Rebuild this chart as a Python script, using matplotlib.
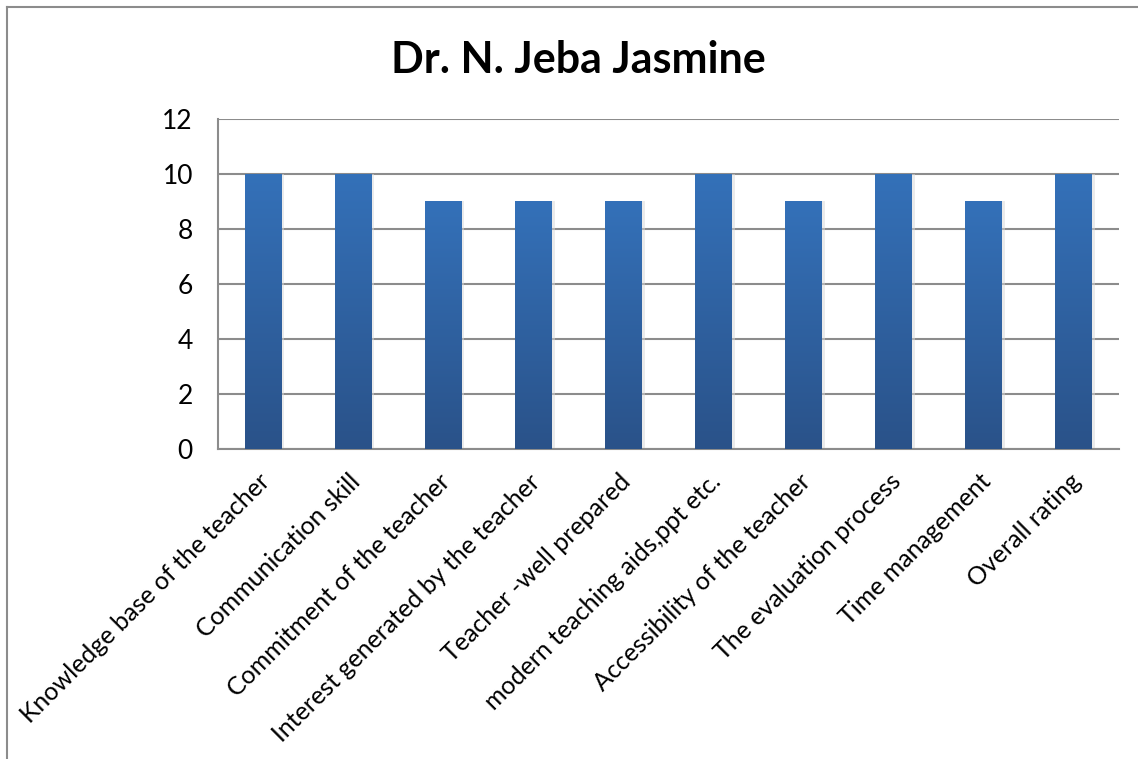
import matplotlib
matplotlib.use("Agg")
import matplotlib.pyplot as plt
import numpy as np
from matplotlib.colors import LinearSegmentedColormap
from matplotlib.lines import Line2D
from matplotlib.transforms import ScaledTranslation

categories = ["Knowledge base of the teacher", "Communication skill",
              "Commitment of the teacher", "Interest generated by the teacher",
              "Teacher -well prepared", "modern teaching aids,ppt etc.",
              "Accessibility of the teacher", "The evaluation process",
              "Time management", "Overall rating"]
values = [10, 10, 9, 9, 9, 10, 9, 10, 9, 10]
yticks = [0, 2, 4, 6, 8, 10, 12]
title = "Dr. N. Jeba Jasmine"

plt.rcParams['font.family'] = ['Lato', 'DejaVu Sans']

W, H = 1138, 759
fig = plt.figure(figsize=(W / 100, H / 100), dpi=100)
fig.patch.set_facecolor('white')

ax = fig.add_axes([218 / W, 1 - 449 / H, (1119 - 218) / W, (449 - 119) / H])
x = np.arange(len(categories))
bw = 0.41
bars = ax.bar(x, values, width=bw, color='none', edgecolor='none', zorder=3)

cmap = LinearSegmentedColormap.from_list('g', ['#2a5289', '#3471b9'])
grad = np.linspace(0, 1, 256).reshape(-1, 1)
for b in bars:
    x0, y0 = b.get_x(), b.get_y()
    w, h = b.get_width(), b.get_height()
    # soft shadow
    ax.bar(x0 + w / 2 + 0.03, h, width=w, color='#d9d9d9', alpha=0.5,
           zorder=2, edgecolor='none')
    im = ax.imshow(grad, extent=[x0, x0 + w, y0, y0 + h], origin='lower',
                   cmap=cmap, aspect='auto', zorder=3)
    im.set_clip_path(b)

ax.set_xlim(-0.5, len(categories) - 0.5)
ax.set_ylim(0, 12)
ax.set_yticks(yticks)
ax.set_yticklabels([str(v) for v in yticks], fontsize=19)
ax.yaxis.grid(True, color='#8c8c8c', linewidth=1.5, zorder=1)
ax.set_axisbelow(True)
ax.tick_params(axis='y', length=0, pad=18)
ax.tick_params(axis='x', length=0, pad=15)
ax.set_xticks(x)
ax.set_xticklabels(categories, rotation=45, ha='right', va='top',
                   rotation_mode='anchor', fontsize=18)
shift = ScaledTranslation(-5 / 100, 0, fig.dpi_scale_trans)
for lab in ax.get_xticklabels():
    lab.set_transform(lab.get_transform() + shift)
for side in ['top', 'right']:
    ax.spines[side].set_visible(False)
for side in ['left', 'bottom']:
    ax.spines[side].set_color('#8c8c8c')
    ax.spines[side].set_linewidth(1.5)

fig.text(578 / W, 1 - 60 / H, title, ha='center', va='center',
         fontsize=31, fontweight='bold')

# outer chart border
fig.add_artist(Line2D([7 / W, 1.0], [1 - 7 / H, 1 - 7 / H], color='#8c8c8c',
                      linewidth=1.5, transform=fig.transFigure))
fig.add_artist(Line2D([7 / W, 7 / W], [0, 1 - 7 / H], color='#8c8c8c',
                      linewidth=1.5, transform=fig.transFigure))

fig.savefig('out.png', dpi=100, facecolor='white')
